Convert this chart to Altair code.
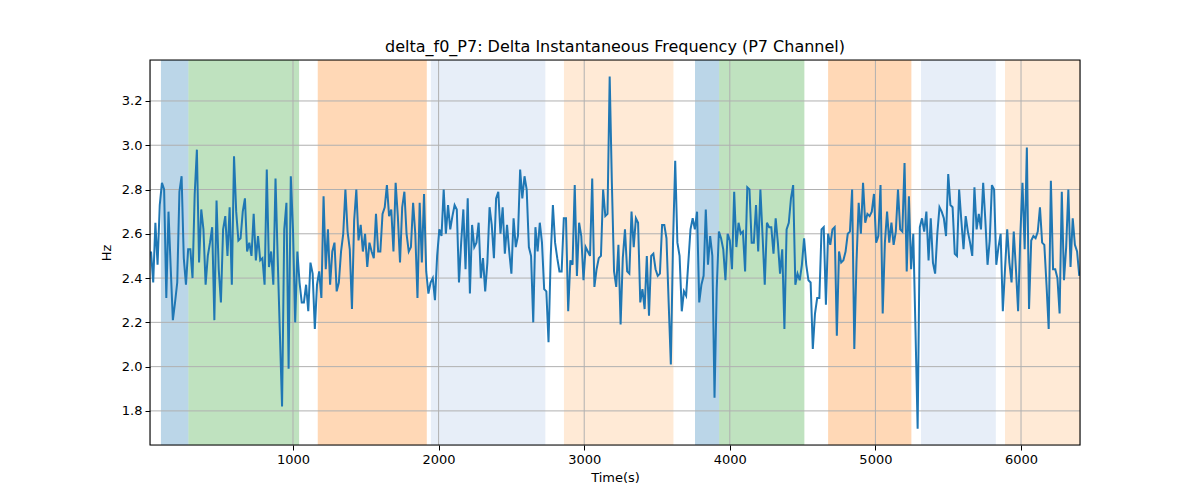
import altair as alt
import pandas as pd

# ---- series values (Hz), left to right ----
seg1 = [2.52, 2.38, 2.65, 2.46, 2.73, 2.83, 2.80, 2.31, 2.70, 2.45, 2.21, 2.29, 2.38, 2.79,
        2.86, 2.49, 2.37, 2.53, 2.53, 2.40, 2.78, 2.98, 2.47, 2.71, 2.62, 2.37, 2.50, 2.56,
        2.63, 2.21, 2.75, 2.44, 2.29, 2.62, 2.68, 2.50, 2.72, 2.37, 2.95, 2.70, 2.57, 2.58,
        2.70, 2.76, 2.52, 2.56, 2.50, 2.69, 2.48, 2.59, 2.48, 2.49, 2.37, 2.89]
seg2 = [2.45, 2.52, 2.37, 2.85, 2.49, 2.15, 1.82, 2.62, 2.74, 1.99, 2.86, 2.62, 2.20, 2.52,
        2.38, 2.29, 2.29, 2.37, 2.25, 2.47, 2.42, 2.17, 2.37, 2.43, 2.31, 2.77, 2.44, 2.62,
        2.37, 2.52, 2.56, 2.34, 2.38, 2.52, 2.60, 2.80, 2.61, 2.53, 2.26, 2.66, 2.80, 2.57,
        2.64, 2.52, 2.60, 2.45, 2.56, 2.52, 2.49, 2.69, 2.52, 2.52, 2.69, 2.72]
seg3 = [2.82, 2.68, 2.71, 2.52, 2.83, 2.68, 2.47, 2.72, 2.79, 2.60, 2.52, 2.54, 2.74, 2.60,
        2.31, 2.74, 2.47, 2.78, 2.43, 2.33, 2.38, 2.40, 2.30, 2.50, 2.62, 2.59, 2.80, 2.60,
        2.73, 2.62, 2.68, 2.73, 2.71, 2.38, 2.56, 2.71, 2.44, 2.76, 2.33, 2.64, 2.54, 2.56,
        2.65, 2.40, 2.49, 2.34, 2.47, 2.72, 2.64, 2.49, 2.76, 2.79, 2.60]
seg4 = [2.72, 2.51, 2.64, 2.52, 2.42, 2.67, 2.54, 2.59, 2.89, 2.76, 2.86, 2.80, 2.54, 2.50,
        2.20, 2.63, 2.52, 2.65, 2.56, 2.35, 2.34, 2.11, 2.50, 2.73, 2.56, 2.49, 2.43, 2.43,
        2.67, 2.67, 2.25, 2.48, 2.46, 2.82, 2.41, 2.65, 2.59, 2.39, 2.54, 2.52, 2.50, 2.85,
        2.36, 2.44, 2.49, 2.50, 2.80, 2.68, 2.69, 3.31, 2.83, 2.43, 2.36, 2.55]
seg5 = [2.19, 2.49, 2.62, 2.43, 2.42, 2.70, 2.54, 2.67, 2.65, 2.29, 2.35, 2.26, 2.50, 2.23,
        2.50, 2.51, 2.44, 2.41, 2.42, 2.64, 2.64, 2.58, 2.29, 2.01, 2.56, 2.93, 2.56, 2.50,
        2.25, 2.34, 2.32, 2.47, 2.62, 2.67, 2.62, 2.70, 2.29, 2.37, 2.41, 2.71, 2.46, 2.59,
        2.50, 1.86, 2.35, 2.61, 2.58, 2.53, 2.39, 2.60, 2.57, 2.44, 2.79]
seg6 = [2.54, 2.65, 2.60, 2.61, 2.43, 2.81, 2.80, 2.56, 2.56, 2.73, 2.52, 2.80, 2.59, 2.37,
        2.65, 2.63, 2.63, 2.51, 2.67, 2.56, 2.42, 2.53, 2.17, 2.62, 2.65, 2.76, 2.82, 2.37,
        2.42, 2.39, 2.46, 2.58, 2.46, 2.39, 2.38, 2.08, 2.24, 2.31, 2.31, 2.62, 2.63, 2.28,
        2.60, 2.55, 2.62, 2.63, 2.14, 2.52, 2.47, 2.48, 2.52, 2.60, 2.61, 2.80]
seg7 = [2.08, 2.47, 2.74, 2.60, 2.83, 2.65, 2.69, 2.68, 2.70, 2.78, 2.56, 2.59, 2.82, 2.24,
        2.56, 2.70, 2.56, 2.65, 2.55, 2.61, 2.80, 2.62, 2.61, 2.92, 2.43, 2.77, 2.44, 2.60,
        2.17, 1.72, 2.63, 2.67, 2.61, 2.70, 2.48, 2.67, 2.47, 2.42, 2.60, 2.72, 2.70, 2.67,
        2.59, 2.87, 2.73, 2.72, 2.51, 2.50, 2.80, 2.66, 2.53, 2.68, 2.61, 2.56]
seg8 = [2.50, 2.81, 2.62, 2.69, 2.62, 2.83, 2.66, 2.46, 2.57, 2.82, 2.80, 2.46, 2.54, 2.60,
        2.25, 2.44, 2.62, 2.47, 2.38, 2.61, 2.44, 2.25, 2.59, 2.83, 2.53, 2.99, 2.26, 2.57,
        2.59, 2.58, 2.61, 2.72, 2.56, 2.55, 2.37, 2.17, 2.84, 2.44, 2.44, 2.40, 2.24, 2.79,
        2.39, 2.54, 2.80, 2.45, 2.67, 2.55, 2.52, 2.41]

values = seg1 + seg2 + seg3 + seg4 + seg5 + seg6 + seg7 + seg8
t_first, t_last = 25, 6400
n = len(values)
times = [t_first + (t_last - t_first) * i / (n - 1) for i in range(n)]

# ---- shaded spans ----
span_start = [93, 282, 1170, 1947, 2861, 3761, 3927, 4675, 5313, 5890]
span_end = [282, 1042, 1919, 2733, 3613, 3927, 4512, 5247, 5827, 6420]
span_color = ["#1f77b4", "#2ca02c", "#ff7f0e", "#aec7e8", "#ffbb78",
              "#1f77b4", "#2ca02c", "#ff7f0e", "#aec7e8", "#ffbb78"]

x_ticks = [1000, 2000, 3000, 4000, 5000, 6000]
y_ticks = [1.8, 2.0, 2.2, 2.4, 2.6, 2.8, 3.0, 3.2]

x_domain = [18, 6405]
y_domain = [1.646, 3.385]

df = pd.DataFrame({"time": times, "value": values})
spans = pd.DataFrame({"start": span_start, "end": span_end, "color": span_color})
xg = pd.DataFrame({"t": x_ticks})
yg = pd.DataFrame({"v": y_ticks})

xscale = alt.Scale(domain=x_domain, nice=False, zero=False)
yscale = alt.Scale(domain=y_domain, nice=False, zero=False)

FONT = "DejaVu Sans"
xaxis = alt.Axis(values=x_ticks, format="d", grid=False, domain=False, tickColor="black",
                 tickSize=5, tickWidth=1, labelFontSize=13, labelColor="black", labelFont=FONT,
                 labelPadding=3, titleFontSize=13, titleFont=FONT, titleFontWeight="normal",
                 titleColor="black", titlePadding=5)
yaxis = alt.Axis(values=y_ticks, format=".1f", grid=False, domain=False, tickColor="black",
                 tickSize=5, tickWidth=1, labelFontSize=13, labelColor="black", labelFont=FONT,
                 labelPadding=3, titleFontSize=13, titleFont=FONT, titleFontWeight="normal",
                 titleColor="black", titlePadding=8)

span_layer = alt.Chart(spans).mark_rect(opacity=0.3, clip=True).encode(
    x=alt.X("start:Q", scale=xscale, axis=xaxis, title="Time(s)"),
    x2="end:Q",
    color=alt.Color("color:N", scale=None),
)

xgrid = alt.Chart(xg).mark_rule(color="#b0b0b0", strokeWidth=1).encode(
    x=alt.X("t:Q", scale=xscale, axis=xaxis, title="Time(s)")
)
ygrid = alt.Chart(yg).mark_rule(color="#b0b0b0", strokeWidth=1).encode(
    y=alt.Y("v:Q", scale=yscale, axis=yaxis, title="Hz")
)

line = alt.Chart(df).mark_line(color="#1f77b4", strokeWidth=2, clip=True).encode(
    x=alt.X("time:Q", scale=xscale, axis=xaxis, title="Time(s)"),
    y=alt.Y("value:Q", scale=yscale, axis=yaxis, title="Hz"),
)

frame = alt.Chart(pd.DataFrame({"k": [0]})).mark_rect(
    filled=False, stroke="black", strokeWidth=1.1
).encode(
    x=alt.value(0), x2=alt.value(930), y=alt.value(0), y2=alt.value(385)
)

chart = alt.layer(span_layer, xgrid, ygrid, line, frame).properties(
    width=930,
    height=385,
    autosize=alt.AutoSizeParams(type="none"),
    padding={"left": 142, "top": 52, "right": 104, "bottom": 47},
    title=alt.TitleParams(
        text="delta_f0_P7: Delta Instantaneous Frequency (P7 Channel)",
        font=FONT, fontSize=16, fontWeight="normal", color="black",
        anchor="middle", offset=4,
    ),
).configure_view(stroke=None).configure(background="white")

chart.save("out.html", embed_options={"renderer": "svg", "actions": False})
